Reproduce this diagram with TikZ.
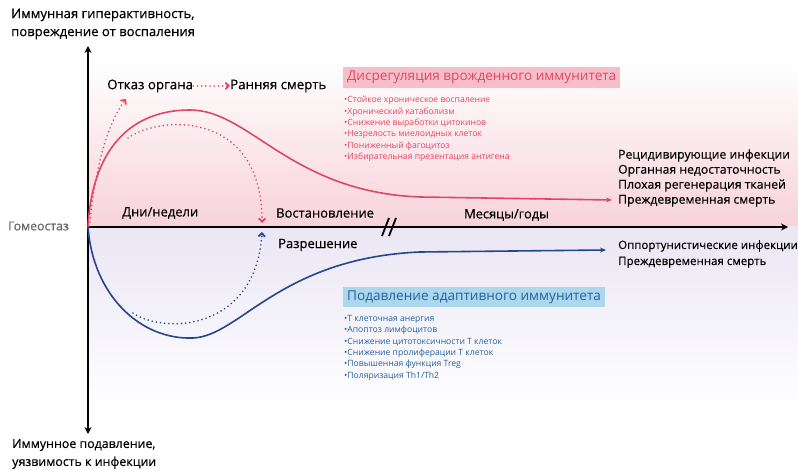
\documentclass[tikz,border=0pt]{standalone}
\usepackage{fontspec}
\setmainfont{Open Sans}
\newfontfamily\semifont{Open Sans}[FakeBold=0.4]
\usetikzlibrary{positioning,arrows.meta}
\definecolor{redline}{RGB}{222,72,98}
\definecolor{blueline}{RGB}{38,70,140}
\definecolor{pinkbg}{RGB}{248,210,218}
\definecolor{lavbg}{RGB}{234,230,244}
\definecolor{redbox}{RGB}{246,190,202}
\definecolor{bluebox}{RGB}{172,216,238}
\definecolor{redtext}{RGB}{226,70,96}
\definecolor{bluetext}{RGB}{36,96,160}
\newcommand{\lbl}[1]{\semifont\fontsize{#1}{#1}\selectfont}

\begin{document}
\begin{tikzpicture}[x=1pt,y=-1pt,
  axis/.style={line width=1.8pt,-{Stealth[length=7pt,width=7pt]}},
  redcurve/.style={redline,line width=1.6pt,-{Stealth[length=6pt,width=5pt]}},
  bluecurve/.style={blueline,line width=1.6pt,-{Stealth[length=6pt,width=5pt]}},
  reddot/.style={redline,line width=1.8pt,line cap=round,dash pattern=on 0pt off 4.2pt,-{Straight Barb[length=3pt,width=6pt,line cap=round]}},
  bluedot/.style={blueline,line width=1.8pt,line cap=round,dash pattern=on 0pt off 4.2pt,-{Straight Barb[length=3pt,width=6pt,line cap=round]}},
  lab/.style={anchor=west,inner sep=0pt,font=\lbl{13}},
  outcome/.style={anchor=west,inner sep=0pt,align=left},
  bullets/.style={anchor=north west,inner sep=0pt,align=left},
  titlebox/.style={anchor=west,inner xsep=4pt,minimum height=21pt,font=\fontsize{13.6}{13.6}\selectfont}]
\useasboundingbox (0,0) rectangle (798,470);
%\draw (0,0) rectangle (798,470);
\shade[top color=white,bottom color=pinkbg] (88,60) rectangle (798,227);
\shade[top color=lavbg,bottom color=white] (88,227) rectangle (798,410);

\coordinate (O) at (88,227);
\coordinate (ytop) at (88,46);
\coordinate (ybot) at (88,434);
\coordinate (xend) at (788,227);
\coordinate (redpeak) at (190,110);
\coordinate (redflat) at (420,197);
\coordinate (redend) at (612,200);
\coordinate (bluelow) at (193,338);
\coordinate (blueflat) at (420,252);
\coordinate (blueend) at (606,250);
\coordinate (recov) at (262,223);
\coordinate (resol) at (262,232);

\node[anchor=west,inner sep=0pt,align=left,font=\semifont\fontsize{13.1}{18}\selectfont] (hyper) at (11,24)
  {Иммунная гиперактивность,\\повреждение от воспаления};
\node[anchor=west,inner sep=0pt,align=left,font=\semifont\fontsize{12.4}{18}\selectfont] (suppr) at (12,454)
  {Иммунное подавление,\\уязвимость к инфекции};
\node[anchor=west,inner sep=0pt,text=black!60,font=\lbl{12.3}] (homeo) at (8,226) {Гомеостаз};

\draw[axis,{Stealth[length=7pt,width=7pt]}-{Stealth[length=7pt,width=7pt]}] (ybot) -- (ytop);
\draw[axis] (O) -- (xend);
\draw[line width=1.8pt] (382,236) -- (389,218) (389,236) -- (396,218);

\node[lab,font=\lbl{13.3}] (organ) at (107,86) {Отказ органа};
\node[lab,font=\lbl{13.3}] (death) at (230,86) {Ранняя смерть};
\draw[reddot] (organ) -- (death);
\draw[reddot] (90,222) .. controls (96,160) and (110,120) .. (126,99);

\draw[redcurve] (O) .. controls (92,150) and (130,110) .. (redpeak)
  .. controls (250,110) and (290,192) .. (redflat) -- (redend);
\draw[bluecurve] (O) .. controls (93,295) and (140,340) .. (bluelow)
  .. controls (240,336) and (280,258) .. (blueflat) -- (blueend);
\draw[reddot] (128,138) .. controls (160,115) and (262,110) .. (recov);
\draw[bluedot] (133,313) .. controls (165,335) and (256,330) .. (resol);

\node[lab,font=\lbl{13}] (days) at (122,213) {Дни/недели};
\node[lab] (recovl) at (276,213) {Востановление};
\node[lab,font=\lbl{12.8}] (months) at (464,215) {Месяцы/годы};
\node[lab] (resoll) at (278,245) {Разрешение};

\node[titlebox,fill=redbox,text=redtext] (innate) at (343,77.5) {Дисрегуляция врожденного иммунитета};
\node[bullets,text=redtext,font=\fontsize{8.6}{11.4}\selectfont] (innlist) at (344,96)
  {•Стойкое хроническое воспаление\\
   •Хронический катаболизм\\
   •Снижение выработки цитокинов\\
   •Незрелость миелоидных клеток\\
   •Пониженный фагоцитоз\\
   •Избирательная презентация антигена};

\node[titlebox,fill=bluebox,text=bluetext,minimum height=17pt] (adapt) at (343,297) {Подавление адаптивного иммунитета};
\node[bullets,text=bluetext,font=\fontsize{8.6}{11.4}\selectfont] (adlist) at (344,315)
  {•Т клеточная анергия\\
   •Апоптоз лимфоцитов\\
   •Снижение цитотоксичности Т клеток\\
   •Снижение пролиферации Т клеток\\
   •Повышенная функция Treg\\
   •Поляризация Th1/Th2};

\node[outcome,font=\semifont\fontsize{12.2}{15}\selectfont] (redout) at (618,178)
  {Рецидивирующие инфекции\\Органная недостаточность\\Плохая регенерация тканей\\Преждевременная смерть};
\node[outcome,font=\semifont\fontsize{11.5}{16}\selectfont] (blueout) at (618,254)
  {Оппортунистические инфекции\\Преждевременная смерть};
\end{tikzpicture}
\end{document}
